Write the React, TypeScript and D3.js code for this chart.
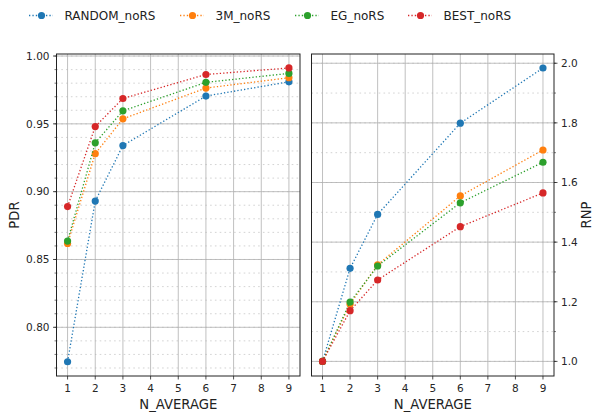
import React from "react";
import * as d3 from "d3";

const nAverage = [1, 2, 3, 6, 9];
const seriesNames = ["RANDOM_noRS", "3M_noRS", "EG_noRS", "BEST_noRS"];
const colors = ["#1f77b4", "#ff7f0e", "#2ca02c", "#d62728"];

const pdrRandom = [0.7746, 0.8931, 0.934, 0.9705, 0.981];
const pdr3M = [0.8618, 0.928, 0.9537, 0.9764, 0.984];
const pdrEG = [0.8636, 0.936, 0.9596, 0.9806, 0.9872];
const pdrBest = [0.889, 0.948, 0.9687, 0.9864, 0.9912];

const rnpRandom = [1.0, 1.312, 1.493, 1.799, 1.984];
const rnp3M = [1.0, 1.192, 1.324, 1.555, 1.709];
const rnpEG = [1.0, 1.199, 1.32, 1.532, 1.668];
const rnpBest = [1.0, 1.17, 1.273, 1.452, 1.565];

const xTicks = [1, 2, 3, 4, 5, 6, 7, 8, 9];
const pdrTicks = [0.8, 0.85, 0.9, 0.95, 1.0];
const pdrMinor = d3.range(77, 101).map((v) => v / 100);
const rnpTicks = [1.0, 1.2, 1.4, 1.6, 1.8, 2.0];
const rnpMinor = d3.range(10, 21).map((v) => v / 10);

const FONT = "DejaVu Sans, sans-serif";
const TOP = 54;
const BOTTOM = 376;

type PanelProps = {
  x0: number;
  x1: number;
  yDomain: [number, number];
  data: number[][];
  ticks: number[];
  minor: number[];
  fmt: (v: number) => string;
  label: string;
  right: boolean;
  labelX: number;
};

function Panel({ x0, x1, yDomain, data, ticks, minor, fmt, label, right, labelX }: PanelProps) {
  const x = d3.scaleLinear().domain([0.6, 9.4]).range([x0, x1]);
  const y = d3.scaleLinear().domain(yDomain).range([BOTTOM, TOP]);
  const line = d3
    .line<number>()
    .x((_, i) => x(nAverage[i]))
    .y((d) => y(d));
  const spineX = right ? x1 : x0;
  const dir = right ? 1 : -1;
  return (
    <g>
      {minor
        .filter((v) => v >= yDomain[0] && v <= yDomain[1])
        .map((v) => (
          <line key={"mg" + v} x1={x0} x2={x1} y1={y(v)} y2={y(v)} stroke="#c8c8c8" strokeWidth={0.8} strokeDasharray="1.6,3.2" />
        ))}
      {ticks.map((v) => (
        <line key={"hg" + v} x1={x0} x2={x1} y1={y(v)} y2={y(v)} stroke="#b0b0b0" strokeWidth={0.8} />
      ))}
      {xTicks.map((v) => (
        <line key={"vg" + v} x1={x(v)} x2={x(v)} y1={TOP} y2={BOTTOM} stroke="#b0b0b0" strokeWidth={0.8} />
      ))}
      {data.map((s, k) => (
        <g key={"s" + k}>
          <path d={line(s) || ""} fill="none" stroke={colors[k]} strokeWidth={1.3} strokeDasharray="1.3,2.1" />
          {s.map((v, i) => (
            <circle key={i} cx={x(nAverage[i])} cy={y(v)} r={3.6} fill={colors[k]} />
          ))}
        </g>
      ))}
      <rect x={x0} y={TOP} width={x1 - x0} height={BOTTOM - TOP} fill="none" stroke="#222" strokeWidth={1} />
      {xTicks.map((v) => (
        <g key={"xt" + v}>
          <line x1={x(v)} x2={x(v)} y1={BOTTOM} y2={BOTTOM + 3.5} stroke="#222" strokeWidth={0.8} />
          <text x={x(v)} y={BOTTOM + 15.5} textAnchor="middle" fontFamily={FONT} fontSize={10.5} fill="#262626">
            {v}
          </text>
        </g>
      ))}
      {minor
        .filter((v) => v >= yDomain[0] && v <= yDomain[1])
        .map((v) => (
          <line key={"mt" + v} x1={spineX} x2={spineX + dir * 2} y1={y(v)} y2={y(v)} stroke="#222" strokeWidth={0.6} />
        ))}
      {ticks.map((v) => (
        <g key={"yt" + v}>
          <line x1={spineX} x2={spineX + dir * 3.5} y1={y(v)} y2={y(v)} stroke="#222" strokeWidth={0.8} />
          <text
            x={spineX + dir * 7}
            y={y(v)}
            dy="0.36em"
            textAnchor={right ? "start" : "end"}
            fontFamily={FONT}
            fontSize={10.5}
            fill="#262626"
          >
            {fmt(v)}
          </text>
        </g>
      ))}
      <text x={(x0 + x1) / 2} y={409} textAnchor="middle" fontFamily={FONT} fontSize={13.2} fill="#222">
        N_AVERAGE
      </text>
      <text
        transform={`translate(${labelX},${(TOP + BOTTOM) / 2}) rotate(-90)`}
        textAnchor="middle"
        dy="0.36em"
        fontFamily={FONT}
        fontSize={13.2}
        fill="#222"
      >
        {label}
      </text>
    </g>
  );
}

export default function App() {
  const legendX = [29, 180, 295, 408];
  return (
    <svg width={593} height={414} style={{ position: "absolute", left: 0, top: 0, background: "#fff" }}>
      <rect width={593} height={414} fill="#fff" />
      {seriesNames.map((n, k) => (
        <g key={n}>
          <line x1={legendX[k]} x2={legendX[k] + 24} y1={15.5} y2={15.5} stroke={colors[k]} strokeWidth={1.3} strokeDasharray="1.3,2.1" />
          <circle cx={legendX[k] + 12.5} cy={15.5} r={3.6} fill={colors[k]} />
          <text x={legendX[k] + 35.5} y={15.5} dy="0.36em" fontFamily={FONT} fontSize={12} fill="#222">
            {n}
          </text>
        </g>
      ))}
      <Panel
        x0={56.5}
        x1={300}
        yDomain={[0.7641, 1.0015]}
        data={[pdrRandom, pdr3M, pdrEG, pdrBest]}
        ticks={pdrTicks}
        minor={pdrMinor}
        fmt={d3.format(".2f")}
        label="PDR"
        right={false}
        labelX={14}
      />
      <Panel
        x0={311.5}
        x1={554}
        yDomain={[0.951, 2.031]}
        data={[rnpRandom, rnp3M, rnpEG, rnpBest]}
        ticks={rnpTicks}
        minor={rnpMinor}
        fmt={d3.format(".1f")}
        label="RNP"
        right={true}
        labelX={586}
      />
    </svg>
  );
}
